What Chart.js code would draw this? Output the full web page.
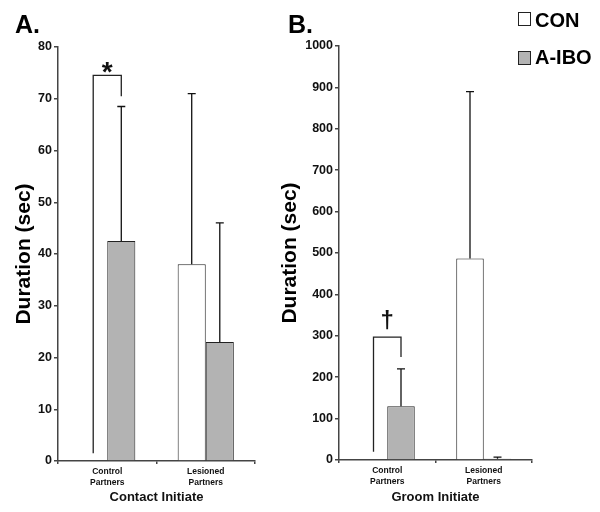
<!DOCTYPE html>
<html>
<head>
<meta charset="utf-8">
<script src="https://cdn.jsdelivr.net/npm/chart.js@4"></script>
<style>
  body { margin: 0; background: #fff; }
  #wrap { position: relative; width: 600px; height: 512px; font-family: "Liberation Sans", Arial, sans-serif; }
  canvas { position: absolute; top: 0; }
  #chartA { left: 0; }
  #chartB { left: 270px; }
  .panel { position: absolute; font-weight: bold; font-size: 25px; line-height: 1; }
  .leg { position: absolute; font-weight: bold; font-size: 20px; line-height: 1; }
  .box { position: absolute; width: 11px; height: 12px; border: 1px solid #222; }
</style>
</head>
<body>
<div id="wrap">
  <canvas id="chartA" width="300" height="512"></canvas>
  <canvas id="chartB" width="330" height="512"></canvas>
  <div class="panel" style="left:15px; top:12px;">A.</div>
  <div class="panel" style="left:288px; top:12px;">B.</div>
  <div class="box" style="left:518px; top:12px; background:#fff;"></div>
  <div class="leg" style="left:535px; top:10px;">CON</div>
  <div class="box" style="left:518px; top:51px; background:#b3b3b3;"></div>
  <div class="leg" style="left:535px; top:47px;">A-IBO</div>
</div>
<script>
const categories = [['Control', 'Partners'], ['Lesioned', 'Partners']];
const seriesNames = ['CON', 'A-IBO'];

// Contact Initiate (panel A)
const conA = [null, 38];
const iboA = [42.5, 23];
const conErrA = [null, 33];
const iboErrA = [26, 23];
const ticksA = [0, 10, 20, 30, 40, 50, 60, 70, 80];
// bracket: top, left leg bottom, right leg bottom
const sigA = [74.5, 1.5, 70.5];

// Groom Initiate (panel B)
const conB = [null, 487];
const iboB = [130, 3];
const conErrB = [null, 403];
const iboErrB = [90, 4];
const ticksB = [0, 100, 200, 300, 400, 500, 600, 700, 800, 900, 1000];
const sigB = [297, 20, 249];

Chart.defaults.font.family = "'Liberation Sans', Arial, sans-serif";
Chart.defaults.color = '#111';

const axisColor = '#444';

const errorBars = {
  id: 'errorBars',
  afterDatasetsDraw(chart, args, opts) {
    const ctx = chart.ctx;
    const y = chart.scales.y;
    ctx.save();
    ctx.strokeStyle = '#111';
    ctx.lineWidth = 1.3;
    chart.data.datasets.forEach((ds, di) => {
      const meta = chart.getDatasetMeta(di);
      ds.data.forEach((v, i) => {
        const err = opts.errs[di][i];
        if (v == null || err == null) return;
        const bar = meta.data[i];
        const yv = y.getPixelForValue(v);
        const yt = y.getPixelForValue(v + err);
        ctx.beginPath();
        ctx.moveTo(bar.x, yv);
        ctx.lineTo(bar.x, yt);
        ctx.moveTo(bar.x - 4, yt);
        ctx.lineTo(bar.x + 4, yt);
        ctx.stroke();
      });
    });

    // significance bracket over the control partners pair
    const ibo = chart.getDatasetMeta(1).data[0];
    const xR = ibo.x;
    const xL = ibo.x - ibo.width;
    const sig = opts.sig;
    const yTop = y.getPixelForValue(sig[0]);
    ctx.strokeStyle = '#222';
    ctx.beginPath();
    ctx.moveTo(xL, y.getPixelForValue(sig[1]));
    ctx.lineTo(xL, yTop);
    ctx.lineTo(xR, yTop);
    ctx.lineTo(xR, y.getPixelForValue(sig[2]));
    ctx.stroke();
    ctx.fillStyle = '#111';
    ctx.textAlign = 'center';
    ctx.textBaseline = 'alphabetic';
    ctx.font = opts.markFont;
    ctx.fillText(opts.mark, (xL + xR) / 2, yTop + opts.markShift);
    ctx.restore();
  }
};

function makeChart(id, con, ibo, conErr, iboErr, ticks, sig, mark, markFont, markShift, title, yWidth, padRight, top, bottom, titlePad) {
  const max = ticks[ticks.length - 1];
  return new Chart(document.getElementById(id), {
    type: 'bar',
    data: {
      labels: categories,
      datasets: [
        { label: seriesNames[0], data: con, backgroundColor: '#ffffff', borderColor: '#222', borderWidth: 1 },
        { label: seriesNames[1], data: ibo, backgroundColor: '#b3b3b3', borderColor: '#222', borderWidth: 1 }
      ]
    },
    options: {
      responsive: false,
      animation: false,
      categoryPercentage: 0.57,
      barPercentage: 1,
      layout: { padding: { left: 0, right: padRight, top: top, bottom: 0 } },
      plugins: {
        legend: { display: false },
        tooltip: { enabled: false },
        errorBars: { errs: [conErr, iboErr], sig: sig, mark: mark, markFont: markFont, markShift: markShift }
      },
      scales: {
        x: {
          grid: { drawOnChartArea: false, tickLength: 3, color: axisColor, lineWidth: 1.5 },
          border: { color: axisColor, width: 1.5 },
          ticks: { font: { size: 8.5, weight: 'bold' }, padding: 3, color: '#111' },
          title: { display: true, text: title, font: { size: 13, weight: 'bold' }, padding: { top: 0, bottom: 7 }, color: '#111' },
          afterFit: s => { s.height = bottom; }
        },
        y: {
          min: 0,
          max: max,
          grid: { drawOnChartArea: false, tickLength: 4, color: axisColor, lineWidth: 1.5 },
          border: { color: axisColor, width: 1.5 },
          ticks: { stepSize: ticks[1] - ticks[0], font: { size: 12.5, weight: 'bold' }, padding: 2, color: '#111', callback: v => String(v) },
          title: { display: true, text: 'Duration (sec)', font: { size: 21, weight: 'bold' }, padding: { top: titlePad, bottom: 0 }, color: '#000' },
          afterFit: s => { s.width = yWidth; }
        }
      }
    },
    plugins: [errorBars]
  });
}

makeChart('chartA', conA, iboA, conErrA, iboErrA, ticksA, sigA, '*', 'bold 28px "Liberation Sans", Arial', 6,
  'Contact Initiate', 58, 45, 47, 51, 12);
makeChart('chartB', conB, iboB, conErrB, iboErrB, ticksB, sigB, '\u2020', 'bold 24px "Liberation Sans", Arial', -9,
  'Groom Initiate', 69, 68, 46, 52, 8);
</script>
</body>
</html>
